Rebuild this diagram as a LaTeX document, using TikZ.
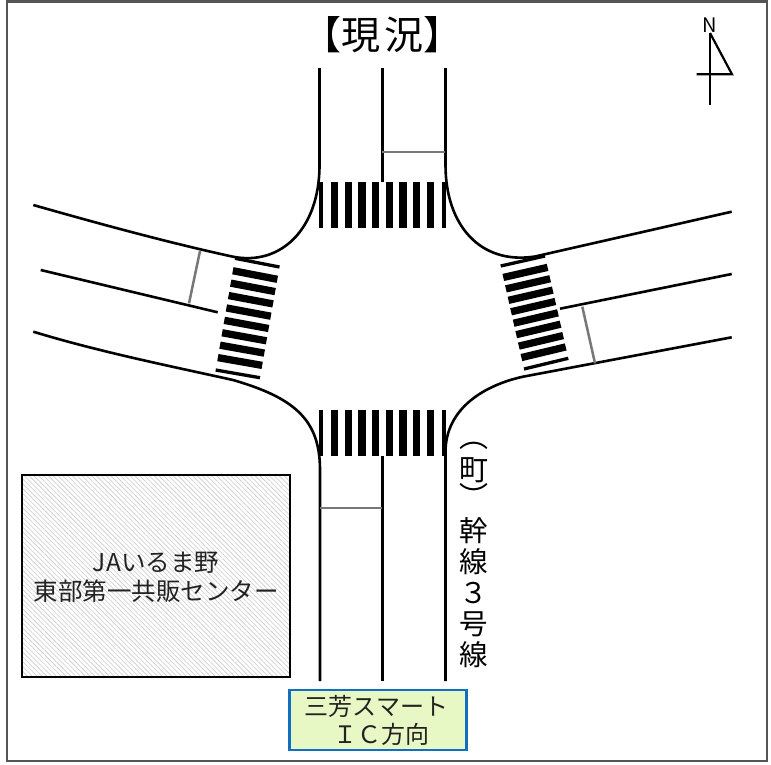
\documentclass[tikz,border=0pt]{standalone}
\usepackage{fontspec}
\setmainfont{Noto Sans CJK JP}
\usetikzlibrary{patterns.meta}
\definecolor{framegray}{HTML}{555555}
\definecolor{stopgray}{HTML}{777777}
\definecolor{hatchgray}{HTML}{CACACA}
\definecolor{boxblue}{HTML}{0F6FC0}
\definecolor{boxfill}{HTML}{E8F8C4}
\definecolor{labeltext}{HTML}{222222}
\tikzset{
  road/.style={line width=2.6pt,black},
  stopline/.style={line width=2.5pt,stopgray},
  thinstripe/.style={line width=3.3pt,black},
  thickstripe/.style={line width=7.3pt,black},
  plain/.style={inner sep=0pt,outer sep=0pt,align=center},
}
\begin{document}
\begin{tikzpicture}[x=1pt,y=-1pt]
\useasboundingbox (0,0) rectangle (771,764);
\fill[white] (0,0) rectangle (771,764);
\draw[framegray,line width=2.4pt] (7,1.5) rectangle (767,761);
% building
\draw[line width=2.8pt,black,pattern={Lines[angle=-45,distance=3.4pt,line width=0.6pt]},pattern color=hatchgray] (22,475) rectangle (290,677);
\node[plain,font=\fontsize{24.5}{29.5}\selectfont,text=labeltext] (building) at (156,577.5) {JAいるま野\\東部第一共販センター};
% roads
\draw[road] (33.3,205) .. controls (100,224) and (170,243) .. (233,256.7) .. controls (280,266) and (319.5,230) .. (319.5,165) -- (319.5,68);
\draw[road] (731.7,211.7) -- (535,256.5) .. controls (480,265) and (445.5,225) .. (445.5,165) -- (445.5,68);
\draw[road] (33.3,331.7) .. controls (100,352) and (170,366) .. (233,380) .. controls (295,398) and (320,420) .. (320,470) -- (320,681);
\draw[road] (731.7,337.3) -- (523,376.7) .. controls (485,385) and (445.5,408) .. (445.5,452) -- (445.5,681);
% lane lines
\draw[road] (382.3,68) -- (382.3,182);
\draw[road] (382.3,456) -- (382.3,681);
\draw[road] (40.7,270) -- (217.7,312.3);
\draw[road] (560,308.7) -- (731.7,274);
% stop lines
\draw[stopline] (382.3,152) -- (445,152);
\draw[stopline] (320,508) -- (382.3,508);
\draw[stopline] (200,251) -- (189,303.3);
\draw[stopline] (582.3,306.7) -- (595,363.3);
% crossings
\foreach \t in {0,...,9}{
  \pgfmathsetmacro{\u}{\t/9}
  \pgfmathsetmacro{\tx}{321+\u*123}
  \ifnum\t=0 \def\sty{thinstripe}\else\ifnum\t=9 \def\sty{thinstripe}\else\def\sty{thickstripe}\fi\fi
  \draw[\sty] (\tx,182) -- (\tx,228);
  \draw[\sty] (\tx,410) -- (\tx,456);
  \pgfmathsetmacro{\lax}{235-19.3*\u}\pgfmathsetmacro{\lay}{258.3+111.7*\u}
  \pgfmathsetmacro{\lbx}{279.5-19.5*\u}\pgfmathsetmacro{\lby}{267+110.7*\u}
  \draw[\sty] (\lax,\lay) -- (\lbx,\lby);
  \pgfmathsetmacro{\rax}{500.7+23.3*\u}\pgfmathsetmacro{\ray}{266+103*\u}
  \pgfmathsetmacro{\rbx}{545+23.3*\u}\pgfmathsetmacro{\rby}{256+102.3*\u}
  \draw[\sty] (\rax,\ray) -- (\rbx,\rby);
}
% title
\node[plain,font=\fontsize{39}{39}\selectfont] (title) at (382.5,35) {【現\hspace{5pt}況】};
% north arrow
\node[plain,font=\fontsize{20}{20}\selectfont] (north) at (709.5,25) {N};
\coordinate (ntop) at (710,33);
\coordinate (nbot) at (710,105);
\coordinate (nleft) at (696.7,74.3);
\coordinate (nright) at (732,74.3);
\draw[line width=2.2pt] (ntop) -- (nbot);
\draw[line width=2.2pt,line join=miter] (nleft) -- (nright) -- (ntop);
% road name
\node[plain,font=\fontsize{29}{26}\selectfont] (townname) at (473.5,475) {︵\\[7pt]町\\︶};
\node[plain,font=\fontsize{28.5}{31}\selectfont] (roadname) at (473.5,593) {幹\\線\\３\\号\\線};
% direction box
\node[draw=boxblue,fill=boxfill,line width=2.8pt,minimum width=177pt,minimum height=60pt,inner sep=0pt,align=center,font=\fontsize{24}{28}\selectfont,text=labeltext] (direction) at (378,720) {\hspace{-3pt}三芳スマート\\\hspace{7pt}ＩＣ方向};
\end{tikzpicture}
\end{document}
